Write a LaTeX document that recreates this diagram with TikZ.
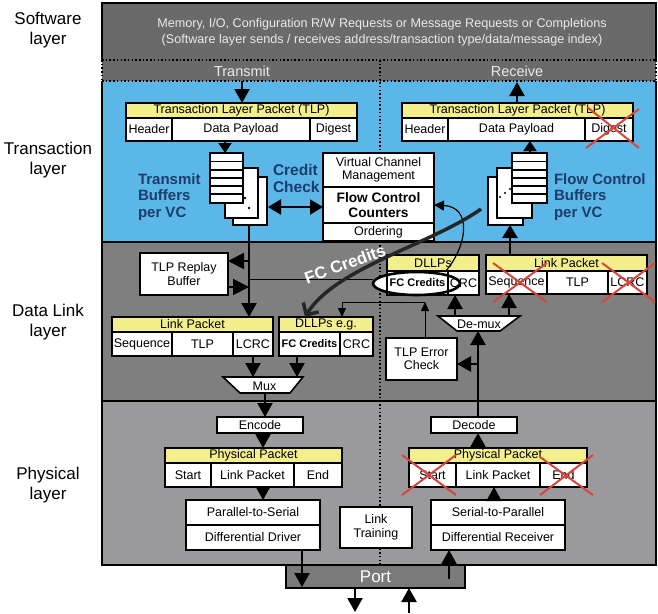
\documentclass[tikz,border=0pt]{standalone}
\usepackage{fontspec}
\setmainfont{Liberation Sans}
\usetikzlibrary{arrows.meta,shapes.geometric}
\definecolor{swgray}{HTML}{6A6A6A}
\definecolor{swtext}{HTML}{EAEAEA}
\definecolor{tlblue}{HTML}{5BB7E8}
\definecolor{dlgray}{HTML}{7F7F80}
\definecolor{phgray}{HTML}{9A9A9C}
\definecolor{portgray}{HTML}{7A7A7A}
\definecolor{hdryellow}{HTML}{F3EF8C}
\definecolor{navy}{HTML}{1C3C6B}
\definecolor{crossred}{HTML}{D9453E}
\definecolor{curvecol}{HTML}{262626}
\newcommand\fsz[2]{\fontsize{#1}{#2}\selectfont}
\newcommand\mybox[7]{\node[#1, minimum width={(#5-#3)*1pt}, minimum height={(#6-#4)*1pt}] (#2) at ({(#3+#5)/2},{(#4+#6)/2}) {#7};}
\begin{document}
\begin{tikzpicture}[x=1pt,y=-1pt,
  every node/.style={inner sep=0pt, outer sep=0pt, font=\fsz{12.5}{13.5}},
  fld/.style={draw=black, line width=1.3pt, fill=white},
  hdr/.style={fld, fill=hdryellow},
  tbox/.style={draw=black, line width=2.4pt, fill=white, align=center},
  vcb/.style={draw=black, line width=2pt, fill=white, align=center},
  page/.style={draw=black, line width=1.6pt, fill=white},
  bigarr/.style={line width=2.2pt, -{Triangle[width=15pt,length=14pt]}},
  tarr/.style={line width=1pt, -{Triangle[width=8pt,length=9pt]}},
  xred/.style={draw=crossred, line width=2pt},
  dotl/.style={line width=1.5pt, dash pattern=on 1.5pt off 2.2pt},
  bluetxt/.style={font=\bfseries\fsz{15}{16.5}, text=navy, align=left},
  lbl/.style={font=\fsz{17}{20.5}, align=center}
]
\useasboundingbox (0,0) rectangle (658,613);
% ---------- backgrounds
\fill[swgray] (102,3) rectangle (656,81);
\fill[tlblue] (102,81) rectangle (656,242);
\fill[dlgray] (102,242) rectangle (656,401);
\fill[phgray] (102,401) rectangle (656,565);
\draw[line width=2pt] (102,60) -- (102,3) -- (656,3) -- (656,60);
\draw[dotl] (102,60) -- (656,60);
\draw[dotl] (102,81) -- (656,81);
\draw[dotl] (102,60) -- (102,81);
\draw[dotl] (656,60) -- (656,81);
\draw[line width=2pt] (102,81) -- (102,565) -- (656,565) -- (656,81);
\draw[line width=2pt] (102,242) -- (656,242);
\draw[line width=2pt] (102,401) -- (656,401);
\draw[dotl] (380,60) -- (380,565);
% ---------- left labels
\node[lbl] (lsw) at (48,30) {Software\\layer};
\node[lbl] (ltl) at (48,160) {Transaction\\layer};
\node[lbl] (ldl) at (48,322) {Data Link\\layer};
\node[lbl] (lph) at (48,485) {Physical\\layer};
% ---------- software layer
\node[font=\fsz{12.6}{16}, text=swtext, align=center] (swt) at (382,32)
  {Memory, I/O, Configuration R/W Requests or Message Requests or Completions\\(Software layer sends / receives address/transaction type/data/message index)};
\node[font=\fsz{14.5}{15}, text=swtext] (txl) at (242,71) {Transmit};
\node[font=\fsz{14.5}{15}, text=swtext] (rxl) at (517,71) {Receive};
% ---------- transaction layer, transmit
\mybox{hdr}{ttlp}{126}{103}{357}{118}{Transaction Layer Packet (TLP)}
\mybox{fld}{thdr}{126}{118}{172}{141}{Header}
\mybox{fld}{tdp}{172}{118}{310}{141}{Data Payload}
\mybox{fld}{tdig}{310}{118}{357}{141}{Digest}
\coordinate (txtop) at (242,81);
\draw[bigarr] (txtop) -- (ttlp.north -| txtop);
% transmit buffers
\draw[page] (233,177) rectangle (267,225);
\draw[page] (225,168) rectangle (258,218);
\fill (245,198) circle (1.3); \fill (249,208) circle (1.3);
\draw[page] (210,153) rectangle (243,203);
\foreach \yy in {161.5,170,178,186,194} \draw[line width=1.2pt] (210,\yy) -- (243,\yy);
\coordinate (tbufin) at (225,153);
\draw[line width=2pt, -{Triangle[width=13pt,length=10pt]}] (tbufin |- thdr.south) -- (tbufin);
\node[bluetxt, anchor=west] (tbtxt) at (138,197) {Transmit\\Buffers\\per VC};
\node[bluetxt, anchor=west, font=\bfseries\fsz{15.5}{17}] (cctxt) at (273,178.5) {Credit\\Check};
% VC box
\mybox{vcb}{vcm}{323}{153}{434}{187}{Virtual Channel\\Management}
\mybox{vcb, font=\bfseries\fsz{13.7}{15}}{fcc}{323}{187}{434}{223}{Flow Control\\Counters}
\mybox{vcb}{ord}{323}{223}{434}{241}{Ordering}
\coordinate (ccl) at (268,207);
\draw[line width=2.2pt, {Triangle[width=15pt,length=13pt]}-{Triangle[width=15pt,length=13pt]}] (ccl) -- (fcc.west |- ccl);
% ---------- transaction layer, receive
\mybox{hdr}{rtlp}{402}{103}{633}{118}{Transaction Layer Packet (TLP)}
\mybox{fld}{rhdr}{402}{118}{448}{141}{Header}
\mybox{fld}{rdp}{448}{118}{585}{141}{Data Payload}
\mybox{fld}{rdig}{585}{118}{633}{141}{Digest}
\draw[xred] (587,107) -- (639,148);
\draw[xred] (586,148) -- (639,109);
\coordinate (rxtop) at (517,82);
\draw[bigarr] (rtlp.north -| rxtop) -- (rxtop);
\draw[page] (488,177) rectangle (523,225);
\draw[page] (497,168) rectangle (532,218);
\fill (500,197) circle (1.2); \fill (505,193) circle (1.2); \fill (510,189) circle (1.2);
\draw[page] (512,153) rectangle (547,203);
\foreach \yy in {161.5,170,178,186,194} \draw[line width=1.2pt] (512,\yy) -- (547,\yy);
\coordinate (rbufout) at (530,153);
\draw[line width=2pt, -{Triangle[width=13pt,length=10pt]}] (rbufout) -- (rbufout |- rdp.south);
\node[bluetxt, anchor=west] (fbtxt) at (554,197) {Flow Control\\Buffers\\per VC};
% ---------- data link layer, transmit
\mybox{tbox}{replay}{140}{253}{228}{295}{TLP Replay\\Buffer}
\mybox{hdr}{tlph}{112}{317}{273}{332}{Link Packet}
\mybox{fld}{tseq}{112}{332}{172}{356}{Sequence}
\mybox{fld}{ttlpf}{172}{332}{233}{356}{TLP}
\mybox{fld}{tlcrc}{233}{332}{273}{356}{LCRC}
\mybox{hdr}{tdllh}{279}{317}{373}{332}{DLLPs e.g.}
\mybox{fld}{tfcc}{279}{332}{340}{356}{\bfseries\fsz{11}{12}FC Credits}
\mybox{fld}{tcrc}{340}{332}{373}{356}{CRC}
\coordinate (vtop) at (249,225);
\draw[line width=2.2pt, -{Triangle[width=15pt,length=14pt]}] (vtop) -- (vtop |- tlph.north);
\draw[line width=2pt, -{Triangle[width=16pt,length=16pt]}] (249,261) -- (replay.east |- 0,261);
\draw[line width=2pt, -{Triangle[width=16pt,length=16pt]}] (replay.east |- 0,287) -- (249,287);
% mux
\draw[line width=1.6pt, fill=white] (223,377) -- (303,377) -- (290,393) -- (240,393) -- cycle;
\node (mux) at (264.5,386) {Mux};
\draw[bigarr] (tlcrc.south) -- (tlcrc.south |- 0,377);
\draw[bigarr] (tfcc.south -| 297,0) -- (297,377);
% ---------- data link layer, receive
\node[ellipse, fill=white, minimum width=87pt, minimum height=23pt] (ellbg) at (416.5,283.5) {};
\mybox{hdr}{rdllh}{387}{255}{479}{271}{DLLPs}
\mybox{fld}{rfcc}{387}{271}{448}{295}{\bfseries\fsz{11}{12}FC Credits}
\mybox{fld}{rcrc}{448}{271}{479}{295}{CRC}
\node[ellipse, draw=black, line width=2.6pt, minimum width=87pt, minimum height=23pt] (ell) at (416.5,283.5) {};
\mybox{hdr}{rlph}{486}{255}{647}{271}{Link Packet}
\mybox{fld}{rseq}{486}{271}{547}{294}{Sequence}
\mybox{fld}{rtlpf}{547}{271}{608}{294}{TLP}
\mybox{fld}{rlcrc}{608}{271}{647}{294}{LCRC}
\draw[xred] (493,263) -- (547,302);
\draw[xred] (493,302) -- (547,263);
\draw[xred] (602,263) -- (655,302);
\draw[xred] (602,302) -- (655,263);
\draw[line width=2.2pt, -{Triangle[width=15pt,length=13pt]}] (rlph.north -| 510,0) -- (510,225);
% demux
\draw[line width=1.6pt, fill=white] (438,316) -- (520,316) -- (500,331) -- (457,331) -- cycle;
\node (demux) at (479,324) {De-mux};
\draw[bigarr] (455,316) -- (rcrc.south -| 455,0);
\draw[bigarr] (509,316) -- (rseq.south -| 509,0);
\mybox{tbox}{tec}{386}{338}{457}{380}{TLP Error\\Check}
% thin connections
\draw[tarr] (tec.north -| 425,0) -- (425,302);
\draw[line width=1pt] (425,302) -- (342,302);
\draw[tarr] (342,302) -- (tdllh.north -| 342,0);
\draw[line width=1pt] (ell.west |- 0,279) -- (249,279);
\draw[line width=1.2pt, -{Triangle[width=10pt,length=10pt]}] (445,272) .. controls (467,247) and (473,207) .. (fcc.east |- 0,205);
% FC credits thick curve
\draw[curvecol, line width=3.5pt, -{Straight Barb[length=9pt,width=18pt]}] (481,209) .. controls (430,245) and (335,268) .. (tdllh.north -| 305,0);
\node[font=\bfseries\fsz{16.8}{18}, text=white, rotate=20] (fclab) at (345,264) {FC Credits};
% ---------- physical layer, transmit
\mybox{tbox}{enc}{217}{417}{303}{433}{Encode}
\mybox{hdr}{tpph}{165}{448}{342}{463}{Physical Packet}
\mybox{fld}{tst}{165}{463}{211}{487}{Start}
\mybox{fld}{tlp2}{211}{463}{294}{487}{Link Packet}
\mybox{fld}{tend}{294}{463}{342}{487}{End}
\mybox{tbox}{p2s}{186}{500}{320}{525}{Parallel-to-Serial}
\mybox{tbox}{ddrv}{186}{525}{320}{550}{Differential Driver}
\draw[bigarr] (265,393) -- (enc.north -| 265,0);
\draw[bigarr] (enc.south -| 263,0) -- (tpph.north -| 263,0);
\draw[bigarr] (tlp2.south -| 263,0) -- (p2s.north -| 263,0);
\mybox{tbox}{ltr}{340}{507}{412}{548}{Link\\Training}
% ---------- physical layer, receive
\mybox{tbox}{dec}{431}{417}{517}{433}{Decode}
\mybox{hdr}{rpph}{409}{448}{587}{463}{Physical Packet}
\mybox{fld}{rst}{409}{463}{456}{487}{Start}
\mybox{fld}{rlp2}{456}{463}{540}{487}{Link Packet}
\mybox{fld}{rend}{540}{463}{587}{487}{End}
\draw[xred] (402,455) -- (456,495);
\draw[xred] (402,495) -- (456,455);
\draw[xred] (540,457) -- (593,495);
\draw[xred] (540,495) -- (593,455);
\mybox{tbox}{s2p}{431}{500}{565}{525}{Serial-to-Parallel}
\mybox{tbox}{drcv}{431}{525}{565}{550}{Differential Receiver}
\draw[bigarr] (rpph.north -| 478,0) -- (dec.south -| 478,0);
\draw[line width=2.2pt] (dec.north -| 478,0) -- (478,345);
\draw[bigarr] (478,364) -- (478,331);
\draw[bigarr] (478,364) -- (tec.east |- 0,364);
\draw[bigarr] (s2p.north -| 494,0) -- (rlp2.south -| 494,0);
% ---------- port
\node[draw=black, line width=1.6pt, fill=portgray, minimum width=179pt, minimum height=23pt, text=white, font=\fsz{17}{18}] (port) at (375.5,576.5) {Port};
\draw[line width=2pt] (102,565) -- (656,565);
\draw[bigarr] (ddrv.south -| 302,0) -- (302,587);
\draw[line width=2.2pt] (449,579) -- (449,566);
\draw[bigarr] (449,566) -- (drcv.south -| 449,0);
\coordinate (pout) at (355,612);
\coordinate (pin) at (409,613);
\draw[bigarr] (port.south -| pout) -- (pout);
\draw[bigarr] (pin) -- (port.south -| pin);
\end{tikzpicture}
\end{document}
